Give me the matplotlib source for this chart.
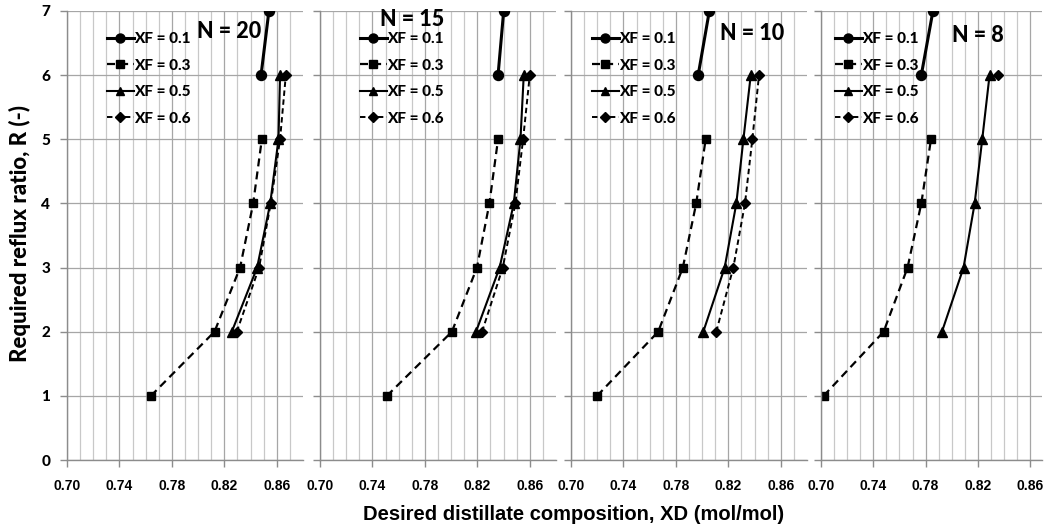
import matplotlib
matplotlib.use("Agg")
import matplotlib.pyplot as plt
import numpy as np

# ---- data ----
panel_titles = ["N = 20", "N = 15", "N = 10", "N = 8"]
series_labels = ["XF = 0.1", "XF = 0.3", "XF = 0.5", "XF = 0.6"]

# N = 20
n20_xf01_x = [0.848, 0.854]; n20_xf01_r = [6, 7]
n20_xf03_x = [0.764, 0.8125, 0.832, 0.842, 0.8486]; n20_xf03_r = [1, 2, 3, 4, 5]
n20_xf05_x = [0.8257, 0.845, 0.855, 0.8613, 0.8625]; n20_xf05_r = [2, 3, 4, 5, 6]
n20_xf06_x = [0.8295, 0.8465, 0.8554, 0.8625, 0.8669]; n20_xf06_r = [2, 3, 4, 5, 6]
# N = 15
n15_xf01_x = [0.8358, 0.8401]; n15_xf01_r = [6, 7]
n15_xf03_x = [0.751, 0.8006, 0.8197, 0.8292, 0.8358]; n15_xf03_r = [1, 2, 3, 4, 5]
n15_xf05_x = [0.819, 0.837, 0.8478, 0.8529, 0.8554]; n15_xf05_r = [2, 3, 4, 5, 6]
n15_xf06_x = [0.8236, 0.8394, 0.849, 0.8549, 0.860]; n15_xf06_r = [2, 3, 4, 5, 6]
# N = 10
n10_xf01_x = [0.797, 0.8055]; n10_xf01_r = [6, 7]
n10_xf03_x = [0.7199, 0.7665, 0.7853, 0.7955, 0.8027]; n10_xf03_r = [1, 2, 3, 4, 5]
n10_xf05_x = [0.8009, 0.8172, 0.8261, 0.8315, 0.8371]; n10_xf05_r = [2, 3, 4, 5, 6]
n10_xf06_x = [0.8108, 0.8238, 0.8327, 0.8383, 0.8434]; n10_xf06_r = [2, 3, 4, 5, 6]
# N = 8
n8_xf01_x = [0.7767, 0.7856]; n8_xf01_r = [6, 7]
n8_xf03_x = [0.702, 0.7479, 0.7662, 0.7767, 0.7841]; n8_xf03_r = [1, 2, 3, 4, 5]
n8_xf05_x = [0.7925, 0.809, 0.8175, 0.8233, 0.8289]; n8_xf05_r = [2, 3, 4, 5, 6]
n8_xf06_x = [0.8353]; n8_xf06_r = [6]

x_major_ticks = [0.70, 0.74, 0.78, 0.82, 0.86]
x_tick_labels = ["0.70", "0.74", "0.78", "0.82", "0.86"]
y_ticks = [0, 1, 2, 3, 4, 5, 6, 7]

panels = [
    [(n20_xf01_x, n20_xf01_r), (n20_xf03_x, n20_xf03_r), (n20_xf05_x, n20_xf05_r), (n20_xf06_x, n20_xf06_r)],
    [(n15_xf01_x, n15_xf01_r), (n15_xf03_x, n15_xf03_r), (n15_xf05_x, n15_xf05_r), (n15_xf06_x, n15_xf06_r)],
    [(n10_xf01_x, n10_xf01_r), (n10_xf03_x, n10_xf03_r), (n10_xf05_x, n10_xf05_r), (n10_xf06_x, n10_xf06_r)],
    [(n8_xf01_x, n8_xf01_r), (n8_xf03_x, n8_xf03_r), (n8_xf05_x, n8_xf05_r), (n8_xf06_x, n8_xf06_r)],
]

# ---- styles ----
W, H = 1047, 529
styles = [
    dict(marker="o", ms=7.2, lw=2.2, ls="-"),
    dict(marker="s", ms=6.4, lw=1.6, ls=(0, (3.6, 2.3))),
    dict(marker="^", ms=7.0, lw=1.5, ls="-"),
    dict(marker="D", ms=5.2, lw=1.4, ls=(0, (2.8, 1.8))),
]
narrow = ["Liberation Sans Narrow", "Liberation Sans", "DejaVu Sans"]
cal = ["Lato", "DejaVu Sans"]

# axes geometry in pixels: left, right, xmax
ax_px = [(67, 303, 0.88), (320, 556, 0.88), (571, 807, 0.88), (821, 1042, 0.869)]
ax_bottom, ax_top = 460, 11
legend_off = [40, 40, 21, 14]
title_pos = [(229, 32), (412, 19), (752, 33), (978, 35)]

fig = plt.figure(figsize=(W / 100, H / 100), dpi=100)

for i, (l, r, xmax) in enumerate(ax_px):
    ax = fig.add_axes([l / W, (H - ax_bottom) / H, (r - l) / W, (ax_bottom - ax_top) / H])
    ax.set_xlim(0.70, xmax)
    ax.set_ylim(0, 7)
    for (xs, rs), lab, st in zip(panels[i], series_labels, styles):
        ax.plot(xs, rs, color="black", label=lab, marker=st["marker"], ms=st["ms"],
                lw=st["lw"], ls=st["ls"], markeredgecolor="black", markerfacecolor="black")
    ax.set_xticks(x_major_ticks)
    ax.set_xticklabels(x_tick_labels)
    minor = [round(0.70 + 0.01 * k, 2) for k in range(1, 18)]
    minor = [m for m in minor if m not in x_major_ticks and m < xmax - 0.001]
    ax.set_xticks(minor, minor=True)
    ax.set_yticks(y_ticks)
    ax.grid(True, which="major", axis="both", color="#a6a6a6", lw=0.9)
    ax.grid(True, which="minor", axis="x", color="#c8c8c8", lw=0.9)
    ax.set_axisbelow(True)
    for s in ["top", "right"]:
        ax.spines[s].set_visible(False)
    for s in ["left", "bottom"]:
        ax.spines[s].set_color("#8c8c8c")
        ax.spines[s].set_linewidth(1.0)
    ax.tick_params(which="major", length=5, color="#8c8c8c", width=1.0)
    ax.tick_params(which="minor", length=0)
    ax.tick_params(axis="x", pad=9)
    for t in ax.get_xticklabels():
        t.set_fontfamily(narrow)
        t.set_fontweight("bold")
        t.set_fontsize(10)
    if i == 0:
        for t in ax.get_yticklabels():
            t.set_fontfamily(cal)
            t.set_fontweight("black")
            t.set_fontsize(11)
        ax.tick_params(axis="y", pad=7)
    else:
        ax.set_yticklabels([])
    leg = ax.legend(loc="upper left", bbox_to_anchor=(legend_off[i] / (r - l), 0.953),
                    frameon=False, handlelength=1.75, handletextpad=0.05, labelspacing=0.82,
                    borderpad=0, borderaxespad=0, numpoints=1, markerscale=0.9,
                    prop=dict(family=cal, weight="black", size=11))
    tx, ty = title_pos[i]
    fig.text(tx / W, 1 - ty / H, panel_titles[i], ha="center", va="center",
             fontsize=15.5, fontweight="black", family=cal)

fig.text(20 / W, 1 - 234 / H, "Required reflux ratio, R (-)", rotation=90, ha="center",
         va="center", fontsize=16, fontweight="black", family=cal)
fig.text(574 / W, 1 - 515 / H, "Desired distillate composition, XD (mol/mol)", ha="center",
         va="center", fontsize=14.5, fontweight="bold", family=narrow)

fig.savefig("out.png", dpi=100)
